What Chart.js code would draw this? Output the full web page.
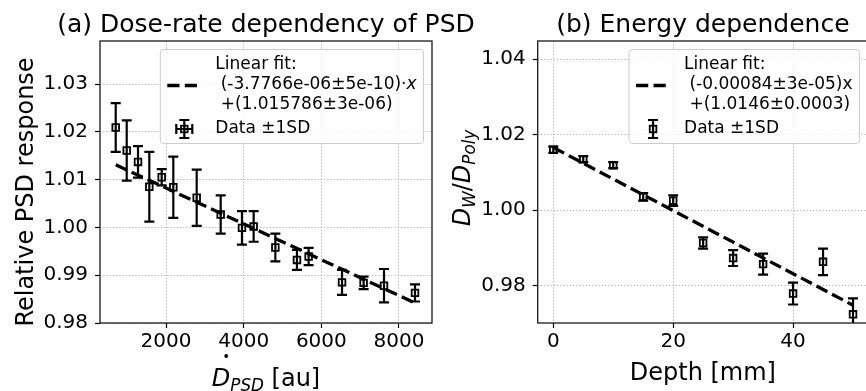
<!DOCTYPE html>
<html lang="en">
<head>
  <meta charset="UTF-8">
  <title>PSD dose-rate and energy dependence</title>
  <script src="https://cdn.jsdelivr.net/npm/chart.js"></script>
  <style>
    html, body { margin: 0; padding: 0; background: #fff; }
    body { width: 866px; height: 391px; overflow: hidden; position: relative; }
    canvas { position: absolute; top: 0; }
    #doseChart { left: 0; }
    #depthChart { left: 450px; }
  </style>
</head>
<body>
  <canvas id="doseChart" width="480" height="391"></canvas>
  <canvas id="depthChart" width="430" height="391"></canvas>

  <script>
    // (a) dose-rate dependency of PSD
    const doseRate = [705, 988, 1279, 1570, 1889, 2188, 2790, 3408, 3956, 4257, 4816, 5372, 5673, 6533, 7089, 7614, 8412];
    const psdResponse = [1.0209, 1.0161, 1.0137, 1.0085, 1.0105, 1.0084, 1.0062, 1.0027, 0.9999, 1.0002, 0.9958, 0.9932, 0.9939, 0.9885, 0.9884, 0.9878, 0.9863];
    const psdSD = [0.0051, 0.0063, 0.0033, 0.0073, 0.0017, 0.0064, 0.0059, 0.0040, 0.0035, 0.0032, 0.0029, 0.0021, 0.0018, 0.0026, 0.0013, 0.0035, 0.0018];
    const doseFitX = [705, 8412];
    const doseFitY = [1.0131, 0.9842];
    const doseTicksX = [2000, 4000, 6000, 8000];
    const doseTicksY = [0.98, 0.99, 1.00, 1.01, 1.02, 1.03];

    // (b) energy dependence
    const depth = [0, 5, 10, 15, 20, 25, 30, 35, 40, 45, 50];
    const doseRatio = [1.0160, 1.0135, 1.0119, 1.0035, 1.0025, 0.9913, 0.9873, 0.9857, 0.9779, 0.9863, 0.9724];
    const doseRatioSD = [0.0008, 0.0008, 0.0008, 0.0010, 0.0014, 0.0015, 0.0021, 0.0028, 0.0029, 0.0035, 0.0042];
    const depthFitX = [0, 50];
    const depthFitY = [1.0166, 0.9748];
    const depthTicksX = [0, 20, 40];
    const depthTicksY = [0.98, 1.00, 1.02, 1.04];

    Chart.defaults.font.family = '"DejaVu Sans", sans-serif';
    Chart.defaults.color = '#000';

    const FAMILY = '"DejaVu Sans", sans-serif';

    function setFont(ctx, size, italic) {
      ctx.font = (italic ? 'italic ' : '') + size + 'px ' + FAMILY;
    }

    // draws pieces of text (mathtext-like) centred on cx
    function drawRich(ctx, parts, cx, baseY) {
      let w = 0;
      parts.forEach(p => { setFont(ctx, p.size || 24, p.it); w += ctx.measureText(p.t).width; });
      let x = cx - w / 2;
      ctx.textAlign = 'left';
      ctx.textBaseline = 'alphabetic';
      parts.forEach(p => {
        const size = p.size || 24;
        setFont(ctx, size, p.it);
        const pw = ctx.measureText(p.t).width;
        ctx.fillText(p.t, x, baseY + (p.dy || 0));
        if (p.dot) {
          ctx.beginPath();
          ctx.arc(x + pw * 0.78, baseY - 30, 1.9, 0, Math.PI * 2);
          ctx.fill();
        }
        x += pw;
      });
    }

    function drawLegend(ctx, area, fitLines, xWhisker) {
      const fs = 17;
      setFont(ctx, fs, false);
      let maxW = 0;
      fitLines.forEach(l => { maxW = Math.max(maxW, ctx.measureText(l).width + (l.endsWith('·') ? 10 : 0)); });
      maxW = Math.max(maxW, ctx.measureText('Data ±1SD').width);
      const w = 55 + maxW + 7;
      const h = 94;
      const right = area.right - 8.5;
      const left = right - w;
      const top = area.top + 8.5;

      ctx.save();
      ctx.beginPath();
      ctx.roundRect(left, top, w, h, 3.4);
      ctx.fillStyle = 'rgba(255,255,255,0.8)';
      ctx.fill();
      ctx.strokeStyle = '#cccccc';
      ctx.lineWidth = 1;
      ctx.stroke();

      // dashed fit handle
      ctx.strokeStyle = '#000';
      ctx.lineWidth = 3.3;
      ctx.setLineDash([12.2, 5.3]);
      ctx.beginPath();
      ctx.moveTo(left + 7, top + 36);
      ctx.lineTo(left + 41, top + 36);
      ctx.stroke();
      ctx.setLineDash([]);

      // data handle
      const mx = left + 24, my = top + 79.5;
      ctx.lineWidth = 2.2;
      ctx.beginPath();
      ctx.moveTo(mx, my - 9); ctx.lineTo(mx, my + 9);
      ctx.moveTo(mx - 5, my - 9); ctx.lineTo(mx + 5, my - 9);
      ctx.moveTo(mx - 5, my + 9); ctx.lineTo(mx + 5, my + 9);
      if (xWhisker) {
        ctx.moveTo(mx - 8, my); ctx.lineTo(mx + 8, my);
        ctx.moveTo(mx - 8, my - 5); ctx.lineTo(mx - 8, my + 5);
        ctx.moveTo(mx + 8, my - 5); ctx.lineTo(mx + 8, my + 5);
      }
      ctx.stroke();
      ctx.lineWidth = 1.8;
      ctx.strokeRect(mx - 3.3, my - 3.3, 6.6, 6.6);

      ctx.fillStyle = '#000';
      ctx.textAlign = 'left';
      ctx.textBaseline = 'middle';
      fitLines.forEach((l, i) => {
        setFont(ctx, fs, false);
        ctx.fillText(l, left + 55, top + 15.5 + i * 20);
        if (l.endsWith('·')) {
          const lw = ctx.measureText(l).width;
          setFont(ctx, fs, true);
          ctx.fillText('x', left + 55 + lw, top + 15.5 + i * 20);
        }
      });
      setFont(ctx, fs, false);
      ctx.fillText('Data ±1SD', left + 55, my);
      ctx.restore();
    }

    function errorBars(xs, ys, sds) {
      return {
        id: 'errorBars',
        beforeDatasetsDraw(chart) {
          const {ctx, chartArea, scales: {x, y}} = chart;
          ctx.save();
          ctx.beginPath();
          ctx.rect(chartArea.left, chartArea.top, chartArea.right - chartArea.left, chartArea.bottom - chartArea.top);
          ctx.clip();
          ctx.strokeStyle = '#000';
          ctx.lineWidth = 2.2;
          xs.forEach((v, i) => {
            const px = x.getPixelForValue(v);
            const top = y.getPixelForValue(ys[i] + sds[i]);
            const bot = y.getPixelForValue(ys[i] - sds[i]);
            ctx.beginPath();
            ctx.moveTo(px, top); ctx.lineTo(px, bot);
            ctx.moveTo(px - 5, top); ctx.lineTo(px + 5, top);
            ctx.moveTo(px - 5, bot); ctx.lineTo(px + 5, bot);
            ctx.stroke();
          });
          ctx.restore();
        }
      };
    }

    function decor(draw) {
      return {
        id: 'decor',
        afterDraw(chart) {
          const {ctx, chartArea} = chart;
          ctx.save();
          ctx.strokeStyle = '#1a1a1a';
          ctx.lineWidth = 1.3;
          ctx.strokeRect(chartArea.left, chartArea.top, chartArea.right - chartArea.left, chartArea.bottom - chartArea.top);
          ctx.fillStyle = '#000';
          draw(ctx, chartArea);
          ctx.restore();
        }
      };
    }

    function axis(min, max, ticks, fmt, fitSize, isX) {
      return {
        type: 'linear',
        min: min,
        max: max,
        afterBuildTicks: s => { s.ticks = ticks.map(v => ({value: v})); },
        afterFit: s => { if (isX) s.height = fitSize; else s.width = fitSize; },
        ticks: {
          callback: fmt,
          autoSkip: false,
          maxRotation: 0,
          font: {size: 20},
          color: '#000',
          padding: isX ? 2 : 7
        },
        grid: {
          color: '#b0b0b0',
          lineWidth: 1,
          tickLength: 5,
          tickColor: '#000',
          tickWidth: 1.2
        },
        border: {display: false, dash: [1.2, 2]}
      };
    }

    function makeChart(id, cfg) {
      return new Chart(document.getElementById(id), {
        type: 'scatter',
        data: {
          datasets: [
            {
              data: cfg.xs.map((v, i) => ({x: v, y: cfg.ys[i]})),
              pointStyle: 'rect',
              pointRadius: 4.7,
              borderColor: '#000',
              backgroundColor: 'rgba(0,0,0,0)',
              borderWidth: 1.8
            },
            {
              data: cfg.fitX.map((v, i) => ({x: v, y: cfg.fitY[i]})),
              showLine: true,
              borderColor: '#000',
              borderWidth: 3.3,
              borderDash: [12.2, 5.3],
              pointRadius: 0
            }
          ]
        },
        options: {
          responsive: false,
          animation: false,
          layout: {padding: {left: 0, top: 41, right: cfg.padRight, bottom: 0}},
          plugins: {legend: {display: false}, tooltip: {enabled: false}},
          scales: {
            x: axis(cfg.xMin, cfg.xMax, cfg.ticksX, v => String(v), 68, true),
            y: axis(cfg.yMin, cfg.yMax, cfg.ticksY, v => v.toFixed(2), cfg.yWidth, false)
          }
        },
        plugins: [errorBars(cfg.xs, cfg.ys, cfg.sds), decor(cfg.draw)]
      });
    }

    makeChart('doseChart', {
      xs: doseRate, ys: psdResponse, sds: psdSD,
      fitX: doseFitX, fitY: doseFitY,
      ticksX: doseTicksX, ticksY: doseTicksY,
      xMin: 300, xMax: 8850, yMin: 0.98, yMax: 1.039,
      yWidth: 100, padRight: 48,
      draw(ctx, area) {
        const cx = (area.left + area.right) / 2;
        setFont(ctx, 25, false);
        ctx.textAlign = 'center';
        ctx.textBaseline = 'alphabetic';
        ctx.fillText('(a) Dose-rate dependency of PSD', cx, 31.5);
        ctx.save();
        ctx.translate(33, 192);
        ctx.rotate(-Math.PI / 2);
        setFont(ctx, 24, false);
        ctx.fillText('Relative PSD response', 0, 0);
        ctx.restore();
        drawRich(ctx, [
          {t: 'D', it: true, dot: true},
          {t: 'PSD', it: true, size: 16.8, dy: 5},
          {t: ' [au]'}
        ], cx, 386);
        drawLegend(ctx, area, ['Linear fit:', ' (-3.7766e-06±5e-10)·', ' +(1.015786±3e-06)'], true);
      }
    });

    makeChart('depthChart', {
      xs: depth, ys: doseRatio, sds: doseRatioSD,
      fitX: depthFitX, fitY: depthFitY,
      ticksX: depthTicksX, ticksY: depthTicksY,
      xMin: -2.6, xMax: 52.5, yMin: 0.9701, yMax: 1.0448,
      yWidth: 87.7, padRight: 12,
      draw(ctx, area) {
        const cx = (area.left + area.right) / 2;
        setFont(ctx, 25, false);
        ctx.textAlign = 'center';
        ctx.textBaseline = 'alphabetic';
        ctx.fillText('(b) Energy dependence', cx, 31.5);
        setFont(ctx, 24, false);
        ctx.fillText('Depth [mm]', cx, 380);
        ctx.save();
        ctx.translate(20, 178);
        ctx.rotate(-Math.PI / 2);
        drawRich(ctx, [
          {t: 'D', it: true},
          {t: 'W', it: true, size: 16.8, dy: 5},
          {t: '/'},
          {t: 'D', it: true},
          {t: 'Poly', it: true, size: 16.8, dy: 5}
        ], 0, 0);
        ctx.restore();
        drawLegend(ctx, area, ['Linear fit:', ' (-0.00084±3e-05)x', ' +(1.0146±0.0003)'], false);
      }
    });
  </script>
</body>
</html>
